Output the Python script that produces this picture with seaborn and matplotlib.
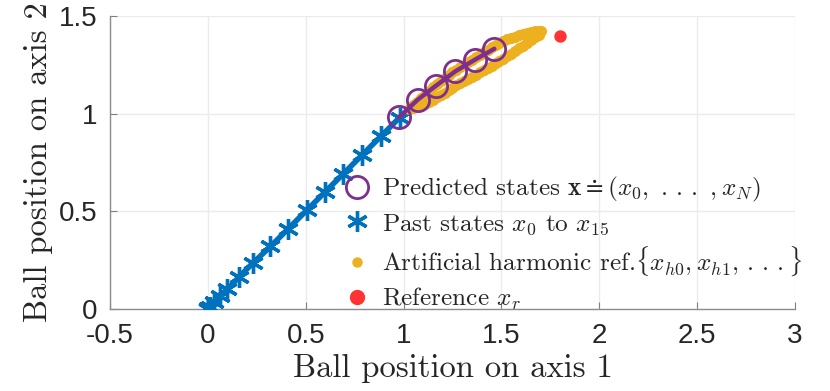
import numpy as np
import pandas as pd
import matplotlib
matplotlib.use("Agg")
import matplotlib.pyplot as plt
from matplotlib.lines import Line2D
import seaborn as sns

# past states x0 .. x15
past_x = [0.0, 0.003, 0.01, 0.03, 0.06, 0.10, 0.16, 0.23, 0.32, 0.41, 0.505, 0.60, 0.69, 0.79, 0.885, 0.98]
past_y = [0.0, 0.003, 0.01, 0.035, 0.065, 0.10, 0.165, 0.235, 0.32, 0.41, 0.505, 0.60, 0.69, 0.79, 0.885, 0.98]

# predicted states
pred_x = [0.976, 1.073, 1.167, 1.265, 1.366, 1.464]
pred_y = [0.981, 1.072, 1.144, 1.217, 1.277, 1.332]

# artificial harmonic reference (closed loop, upper then lower branch)
harm_x = [1.03, 1.05, 1.07, 1.09, 1.11, 1.13, 1.15, 1.17, 1.19, 1.21, 1.23, 1.25,
          1.27, 1.29, 1.31, 1.33, 1.35, 1.37, 1.39, 1.41, 1.43, 1.45, 1.47, 1.49,
          1.51, 1.53, 1.55, 1.57, 1.59, 1.61, 1.63, 1.65, 1.67, 1.69, 1.70,
          1.69, 1.67, 1.65, 1.63, 1.61, 1.59, 1.57, 1.55, 1.53, 1.51, 1.49, 1.47,
          1.45, 1.43, 1.41, 1.39, 1.37, 1.35, 1.33, 1.31, 1.29, 1.27, 1.25, 1.23,
          1.21, 1.19, 1.17, 1.15, 1.13, 1.11, 1.09, 1.07, 1.05]
harm_y = [1.025, 1.045, 1.062, 1.080, 1.098, 1.117, 1.135, 1.150, 1.165, 1.182, 1.198, 1.212,
          1.225, 1.238, 1.250, 1.263, 1.276, 1.289, 1.302, 1.315, 1.328, 1.341, 1.353, 1.364,
          1.372, 1.380, 1.388, 1.395, 1.402, 1.408, 1.413, 1.418, 1.422, 1.425, 1.422,
          1.405, 1.393, 1.378, 1.363, 1.348, 1.334, 1.320, 1.307, 1.294, 1.281, 1.269, 1.257,
          1.245, 1.233, 1.222, 1.211, 1.200, 1.189, 1.178, 1.167, 1.156, 1.145, 1.133, 1.121,
          1.108, 1.095, 1.083, 1.071, 1.061, 1.051, 1.043, 1.035, 1.029]

# reference
ref_x = [1.8]
ref_y = [1.4]

xticks = [-0.5, 0, 0.5, 1, 1.5, 2, 2.5, 3]
xticklabels = ["-0.5", "0", "0.5", "1", "1.5", "2", "2.5", "3"]
yticks = [0, 0.5, 1, 1.5]
yticklabels = ["0", "0.5", "1", "1.5"]

blue = "#0072BD"
purple = "#7E2F8E"
yellow = "#EDB120"
red = "#FF3333"

sns.set_theme(style="whitegrid")
plt.rcParams["mathtext.fontset"] = "cm"
plt.rcParams["font.family"] = ["Liberation Sans", "DejaVu Sans"]

fig = plt.figure(figsize=(8.3, 3.91), dpi=100)
ax = fig.add_axes([0.1325, 0.2097, 0.8253, 0.7494])

past = pd.DataFrame({"x": past_x, "y": past_y})
pred = pd.DataFrame({"x": pred_x, "y": pred_y})
harm = pd.DataFrame({"x": harm_x, "y": harm_y})
ref = pd.DataFrame({"x": ref_x, "y": ref_y})

sns.lineplot(data=past, x="x", y="y", sort=False, color=blue, linewidth=4,
             estimator=None, ax=ax, zorder=2)
ax.plot(past["x"], past["y"], linestyle="none", marker=(6, 2, 0), markersize=15,
        markeredgewidth=2.4, color=blue, zorder=3)
sns.scatterplot(data=harm, x="x", y="y", color=yellow, s=64, linewidth=0, ax=ax, zorder=4)
sns.lineplot(data=pred, x="x", y="y", sort=False, color=purple, linewidth=3.2,
             estimator=None, ax=ax, zorder=5)
ax.plot(pred["x"], pred["y"], linestyle="none", marker="o", markersize=16,
        markerfacecolor="none", markeredgewidth=2, color=purple, zorder=6)
sns.scatterplot(data=ref, x="x", y="y", color=red, s=80, linewidth=0, ax=ax, zorder=6)

ax.set_xlim(-0.5, 3)
ax.set_ylim(0, 1.5)
ax.set_xticks(xticks)
ax.set_xticklabels(xticklabels)
ax.set_yticks(yticks)
ax.set_yticklabels(yticklabels)
ax.tick_params(axis="both", direction="in", length=5, width=0.8, color="#808080",
               labelsize=20, labelcolor="#262626")
ax.tick_params(axis="x", pad=10)
ax.tick_params(axis="y", pad=9)
ax.tick_params(axis="both", bottom=True, left=True)
ax.grid(True, color="#ebebeb", linewidth=1)

for side in ["top", "right"]:
    ax.spines[side].set_visible(False)
for side in ["left", "bottom"]:
    ax.spines[side].set_visible(True)
    ax.spines[side].set_color("#8c8c8c")
    ax.spines[side].set_linewidth(1)

ax.set_xlabel("Ball position on axis 1", fontfamily="cmr10", fontsize=23.5, color="#262626", labelpad=4)
ax.set_ylabel("Ball position on axis 2", fontfamily="cmr10", fontsize=23.5, color="#262626", labelpad=4)

handles = [
    Line2D([], [], linestyle="none", marker="o", markersize=16, markerfacecolor="none",
           markeredgewidth=2, color=purple),
    Line2D([], [], linestyle="none", marker=(6, 2, 0), markersize=15, markeredgewidth=2.4, color=blue),
    Line2D([], [], linestyle="none", marker="o", markersize=6.5, color=yellow),
    Line2D([], [], linestyle="none", marker="o", markersize=10, color=red),
]
labels = [
    r"Predicted states $\mathbf{x} \doteq (x_0,\ .\,.\,.\ ,x_N)$",
    r"Past states $x_0$ to $x_{15}$",
    r"Artificial harmonic ref.$\{x_{h0}, x_{h1},\,.\,.\,.\}$",
    r"Reference $x_r$",
]
leg = ax.legend(handles, labels, loc="lower left", bbox_to_anchor=(0.307, -0.088),
                frameon=False, handlelength=1.1, handletextpad=0.45, labelspacing=0.3,
                prop={"family": "cmr10", "size": 18.2})
for t in leg.get_texts():
    t.set_color("#262626")

fig.savefig("out.png", dpi=100)
